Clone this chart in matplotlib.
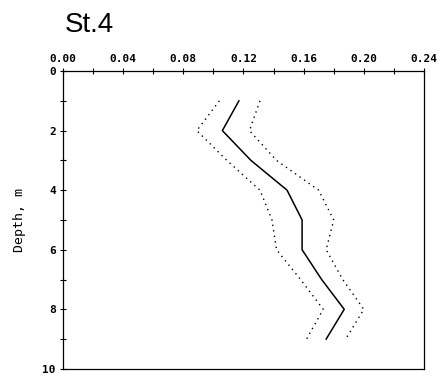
import matplotlib
matplotlib.use("Agg")
import matplotlib.pyplot as plt
from matplotlib.ticker import MultipleLocator

depth = [1, 2, 3, 4, 5, 6, 7, 8, 9]
mean_vals = [0.117, 0.106, 0.125, 0.149, 0.159, 0.159, 0.172, 0.187, 0.175]
lower_vals = [0.104, 0.089, 0.109, 0.131, 0.139, 0.142, 0.158, 0.173, 0.162]
upper_vals = [0.131, 0.124, 0.142, 0.170, 0.180, 0.175, 0.186, 0.200, 0.188]
x_ticks = [0.00, 0.04, 0.08, 0.12, 0.16, 0.20, 0.24]
x_tick_labels = ["0.00", "0.04", "0.08", "0.12", "0.16", "0.20", "0.24"]
y_ticks = [0, 2, 4, 6, 8, 10]
y_tick_labels = ["0", "2", "4", "6", "8", "10"]

fig = plt.figure(figsize=(4.43, 3.76), dpi=100)
ax = fig.add_axes([0.142, 0.019, 0.815, 0.792])

ax.plot(mean_vals, depth, color="black", lw=1.1)
ax.plot(lower_vals, depth, color="black", lw=1.0, linestyle=(0, (1, 3)))
ax.plot(upper_vals, depth, color="black", lw=1.0, linestyle=(0, (1, 3)))

ax.set_xlim(0, 0.24)
ax.set_ylim(10, 0)
ax.xaxis.tick_top()
ax.set_xticks(x_ticks)
ax.set_xticklabels(x_tick_labels)
ax.xaxis.set_minor_locator(MultipleLocator(0.02))
ax.set_yticks(y_ticks)
ax.set_yticklabels(y_tick_labels)
ax.yaxis.set_minor_locator(MultipleLocator(1))

for lab in ax.get_xticklabels() + ax.get_yticklabels():
    lab.set_fontfamily("DejaVu Sans Mono")
    lab.set_fontweight("bold")
    lab.set_fontsize(8)

ax.tick_params(axis="both", which="both", direction="inout", length=4, width=0.8)
ax.tick_params(axis="x", which="both", top=True, bottom=False, pad=3)
ax.tick_params(axis="y", which="both", left=True, right=False, pad=3)
for s in ax.spines.values():
    s.set_linewidth(0.9)

ax.set_ylabel("Depth, m", fontfamily="DejaVu Sans Mono", fontsize=9.5, labelpad=12)

fig.text(0.147, 0.915, "St.4", fontsize=20, family="Liberation Sans", ha="left", va="baseline")

fig.savefig("out.png", dpi=100)
